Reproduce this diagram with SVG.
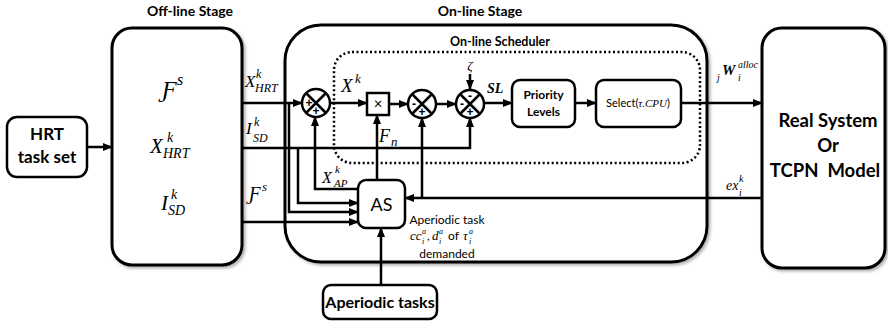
<svg xmlns="http://www.w3.org/2000/svg" width="888" height="324" viewBox="0 0 888 324">
<defs>
<marker id="ah" markerWidth="10" markerHeight="8" refX="9" refY="4" orient="auto" markerUnits="userSpaceOnUse"><path d="M0,0 L10,4 L0,8 z" fill="#000"/></marker>
<filter id="sh" x="-10%" y="-10%" width="125%" height="125%"><feDropShadow dx="2" dy="2" stdDeviation="1.5" flood-color="#000" flood-opacity="0.3"/></filter>
</defs>
<style>
.box{fill:#fff;stroke:#000;stroke-width:3}
.sbox{fill:#fff;stroke:#000;stroke-width:2.5}
.ln{fill:none;stroke:#000;stroke-width:2.5}
.a{marker-end:url(#ah)}
.t{font-family:Lato,"Liberation Sans",sans-serif;font-weight:bold;fill:#000}
.n{font-family:Lato,"Liberation Sans",sans-serif;fill:#000}
.m{font-family:"Liberation Serif","DejaVu Serif",serif;font-style:italic;fill:#000}
.sg{font-family:"Liberation Sans",sans-serif;font-size:12px;font-weight:bold;text-anchor:middle}
.c{text-anchor:middle}
</style>
<rect width="888" height="324" fill="#fff"/>

<text class="t c" x="190" y="16" font-size="14">Off-line Stage</text>
<text class="t c" x="480" y="16" font-size="14">On-line Stage</text>

<g id="offline">
<rect class="box" x="112" y="28" width="130" height="237" rx="20" filter="url(#sh)"/>
<text class="m" x="162" y="97" font-size="24">Ƒ</text><text class="m" x="177" y="85" font-size="16">s</text>
<text class="m" x="150" y="153" font-size="21">X</text><text class="m" x="167" y="142" font-size="14">k</text><text class="m" x="163" y="158" font-size="14">HRT</text>
<text class="m" x="161" y="210" font-size="21">I</text><text class="m" x="171" y="199" font-size="14">k</text><text class="m" x="168" y="215" font-size="14">SD</text>
</g>

<g id="online">
<rect class="box" x="285" y="25" width="422" height="237" rx="36" filter="url(#sh)"/>
</g>

<g id="scheduler">
<rect x="334" y="52" width="366" height="111" rx="18" fill="none" stroke="#000" stroke-width="2.5" stroke-dasharray="2 2.5"/>
<text class="t c" x="500" y="46" font-size="12.5">On-line Scheduler</text>
</g>

<g id="real">
<rect class="box" x="762" y="28" width="123" height="240" rx="20" filter="url(#sh)"/>
<text class="t c" x="828" y="127" font-size="18.5">Real System</text>
<text class="t c" x="828" y="152" font-size="18.5">Or</text>
<text class="t c" x="825" y="177" font-size="18.5" xml:space="preserve">TCPN  Model</text>
</g>

<g id="connectors">
<path class="ln a" d="M87,147 H112"/>
<path class="ln a" d="M242,103 H302"/>
<path class="ln a" d="M289,103 V212 H358"/>
<path class="ln a" d="M242,148 H470 V118"/>
<path class="ln a" d="M298,148 V203 H358"/>
<path class="ln a" d="M242,222 H358"/>
<path class="ln a" d="M358,189 H315 V117"/>
<path class="ln a" d="M377,180 V115"/>
<path class="ln a" d="M762,198 H405"/>
<path class="ln a" d="M422,198 V118"/>
<path class="ln a" d="M330,103 H367"/>
<path class="ln a" d="M389,104 H408"/>
<path class="ln a" d="M436,104 H456"/>
<path class="ln a" d="M470,74 V89"/>
<path class="ln a" d="M485,103 H512"/>
<path class="ln a" d="M575,103 H596"/>
<path class="ln a" d="M681,103 H762"/>
<path class="ln a" d="M381,285 V228"/>
</g>

<g id="labels">
<text class="m" x="245" y="87" font-size="17">X</text><text class="m" x="256" y="78" font-size="12">k</text><text class="m" x="255" y="92" font-size="12">HRT</text>
<text class="m" x="246" y="134" font-size="17">I</text><text class="m" x="254" y="126" font-size="12">k</text><text class="m" x="253" y="142" font-size="12">SD</text>
<text class="m" x="249" y="200" font-size="19">Ƒ</text><text class="m" x="262" y="191" font-size="13">s</text>
<text class="m" x="341" y="92" font-size="19">X</text><text class="m" x="355" y="83" font-size="13">k</text>
<text class="m" x="322" y="183" font-size="16">X</text><text class="m" x="335" y="173" font-size="11">k</text><text class="m" x="334" y="187" font-size="11">AP</text>
<text class="m" x="379" y="142" font-size="18">F</text><text class="m" x="391" y="146" font-size="13">n</text>
<text class="m c" x="470" y="70" font-size="13">ζ</text>
<text class="m" x="487" y="93" font-size="14" font-weight="bold">SL</text>
<text class="m" x="717" y="81" font-size="10">j</text><text class="m" x="722" y="75" font-size="15" font-weight="bold">W</text><text class="m" x="738" y="68" font-size="10">alloc</text><text class="m" x="738" y="81" font-size="10">i</text>
<text class="m" x="726" y="190" font-size="14">ex</text><text class="m" x="739" y="182" font-size="10">k</text><text class="m" x="739" y="196" font-size="10">i</text>
<text class="n c" x="447" y="224" font-size="12">Aperiodic task</text>
<text class="m" x="410" y="240" font-size="13">cc</text><text class="m" x="422" y="233.5" font-size="8">a</text><text class="m" x="422" y="243.5" font-size="8">i</text>
<text class="n" x="427" y="240" font-size="12">,</text>
<text class="m" x="432" y="240" font-size="13">d</text><text class="m" x="439" y="233.5" font-size="8">a</text><text class="m" x="439" y="243.5" font-size="8">i</text>
<text class="n" x="448" y="240" font-size="12">of</text>
<text class="m" x="463" y="240" font-size="13">τ</text><text class="m" x="469" y="233.5" font-size="8">a</text><text class="m" x="469" y="243.5" font-size="8">i</text>
<text class="n c" x="447" y="258" font-size="12">demanded</text>
</g>

<g id="hrt">
<rect class="sbox" x="7" y="117" width="80" height="60" rx="10"/>
<text class="t c" x="47" y="140" font-size="17">HRT</text>
<text class="t c" x="47" y="163" font-size="17">task set</text>
</g>

<g id="sum1">
<circle class="sbox" cx="316" cy="103" r="14"/>
<path class="ln" stroke-width="1.8" d="M306,93 L326,113 M326,93 L306,113"/>
<text class="sg" x="309" y="107">+</text><text class="sg" x="316" y="115">+</text>
</g>

<g id="mult">
<rect class="sbox" x="367" y="93" width="22" height="22"/>
<text class="n c" x="378" y="109" font-size="15">×</text>
</g>

<g id="sum2">
<circle class="sbox" cx="422" cy="104" r="14"/>
<path class="ln" stroke-width="1.8" d="M412,94 L432,114 M432,94 L412,114"/>
<text class="sg" x="414" y="108">-</text><text class="sg" x="422" y="116">+</text>
</g>

<g id="sum3">
<circle class="sbox" cx="470" cy="104" r="14"/>
<path class="ln" stroke-width="1.8" d="M460,94 L480,114 M480,94 L460,114"/>
<text class="sg" x="470" y="100">-</text><text class="sg" x="462" y="108">-</text><text class="sg" x="470" y="116">+</text>
</g>

<g id="priority">
<rect class="sbox" x="512" y="80" width="63" height="47" rx="8"/>
<text class="t c" x="543.5" y="99" font-size="12">Priority</text>
<text class="t c" x="543.5" y="116" font-size="12">Levels</text>
</g>

<g id="select">
<rect class="sbox" x="596" y="80" width="85" height="47" rx="8"/>
<text class="n c" x="638" y="107" font-size="11">Select(<tspan class="m">τ.CPU</tspan>)</text>
</g>

<g id="as">
<rect class="sbox" x="358" y="180" width="47" height="48" rx="8"/>
<text class="n c" x="381.5" y="211" font-size="18">AS</text>
</g>

<g id="aperiodic">
<rect class="sbox" x="323" y="285" width="114" height="34" rx="8"/>
<text class="t c" x="380" y="308" font-size="16">Aperiodic tasks</text>
</g>
</svg>
